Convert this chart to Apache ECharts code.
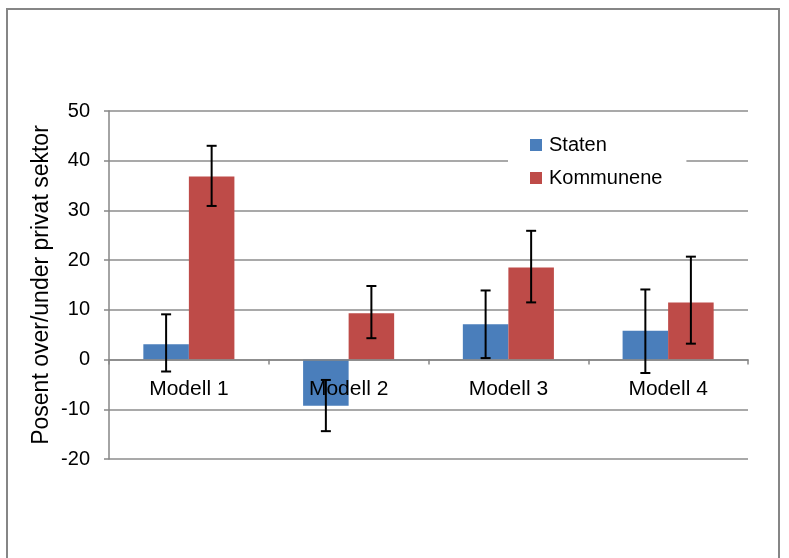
<!DOCTYPE html>
<html>
<head>
<meta charset="utf-8">
<script src="https://cdn.jsdelivr.net/npm/echarts@6/dist/echarts.min.js"></script>
<style>
html,body{margin:0;padding:0;background:#fff;}
#chart{width:789px;height:558px;}
</style>
</head>
<body>
<div id="chart"></div>
<script>
const categories = ['Modell 1', 'Modell 2', 'Modell 3', 'Modell 4'];
const statenValues = [3.1, -9.3, 7.1, 5.8];
const statenLow = [-2.4, -14.4, 0.3, -2.7];
const statenHigh = [9.1, -4.1, 13.9, 14.1];
const kommuneneValues = [36.8, 9.3, 18.5, 11.5];
const kommuneneLow = [30.9, 4.3, 11.5, 3.2];
const kommuneneHigh = [43.0, 14.8, 25.9, 20.7];
const yTicks = { min: -20, max: 50, interval: 10 };

const FONT = 'Liberation Sans';
const BAR_FRAC = 0.285;

function errorSeries(name, low, high, side) {
  return {
    type: 'custom',
    name: name + ' error',
    z: 10,
    silent: true,
    data: categories.map((c, i) => [i, low[i], high[i]]),
    renderItem: function (params, api) {
      const idx = api.value(0);
      const band = api.size([1, 0])[0];
      const off = side * band * BAR_FRAC / 2;
      const lo = api.coord([idx, api.value(1)]);
      const hi = api.coord([idx, api.value(2)]);
      const x = lo[0] + off;
      const cap = 5;
      const style = { stroke: '#000', lineWidth: 2 };
      return {
        type: 'group',
        children: [
          { type: 'line', shape: { x1: x, y1: hi[1], x2: x, y2: lo[1] }, style: style },
          { type: 'line', shape: { x1: x - cap, y1: hi[1], x2: x + cap, y2: hi[1] }, style: style },
          { type: 'line', shape: { x1: x - cap, y1: lo[1], x2: x + cap, y2: lo[1] }, style: style }
        ]
      };
    }
  };
}

const chart = echarts.init(document.getElementById('chart'), null, { renderer: 'canvas' });
chart.setOption({
  animation: false,
  backgroundColor: '#fff',
  textStyle: { fontFamily: FONT },
  graphic: [{
    type: 'rect',
    shape: { x: 7, y: 9, width: 772, height: 600 },
    style: { fill: 'none', stroke: '#868686', lineWidth: 2 },
    z: -1
  }],
  grid: { left: 109, right: 41, top: 111, bottom: 99 },
  legend: {
    orient: 'vertical',
    left: 508,
    top: 123,
    padding: [12, 24, 12, 22],
    backgroundColor: '#fff',
    itemWidth: 12,
    itemHeight: 12,
    itemGap: 13,
    icon: 'rect',
    data: ['Staten', 'Kommunene'],
    textStyle: { fontFamily: FONT, fontSize: 20, color: '#000', padding: [0, 0, 0, 2] },
    z: 20
  },
  xAxis: {
    type: 'category',
    data: categories,
    z: 3,
    axisLine: { onZero: true, lineStyle: { color: '#868686', width: 1.5 } },
    axisTick: { show: true, length: 5, lineStyle: { color: '#868686', width: 1.5 } },
    axisLabel: { margin: -80, fontFamily: FONT, fontSize: 21, color: '#000' },
    splitLine: { show: false }
  },
  yAxis: {
    type: 'value',
    min: yTicks.min,
    max: yTicks.max,
    interval: yTicks.interval,
    name: 'Posent over/under privat sektor',
    nameLocation: 'middle',
    nameGap: 56,
    nameMoveOverlap: false,
    nameRotate: 90,
    nameTextStyle: { fontFamily: FONT, fontSize: 23, color: '#000' },
    axisLine: { show: true, lineStyle: { color: '#868686', width: 1.5 } },
    axisTick: { show: true, length: 5, lineStyle: { color: '#868686', width: 1.5 } },
    axisLabel: { margin: 19, fontFamily: FONT, fontSize: 20, color: '#000' },
    splitLine: { show: true, lineStyle: { color: '#8c8c8c', width: 1.5 } }
  },
  series: [
    {
      name: 'Staten', type: 'bar', data: statenValues,
      barWidth: (BAR_FRAC * 100) + '%', barGap: '0%',
      itemStyle: { color: '#4A7EBB' }
    },
    {
      name: 'Kommunene', type: 'bar', data: kommuneneValues,
      barWidth: (BAR_FRAC * 100) + '%', barGap: '0%',
      itemStyle: { color: '#BE4B48' }
    },
    errorSeries('Staten', statenLow, statenHigh, -1),
    errorSeries('Kommunene', kommuneneLow, kommuneneHigh, 1)
  ]
});
</script>
</body>
</html>
